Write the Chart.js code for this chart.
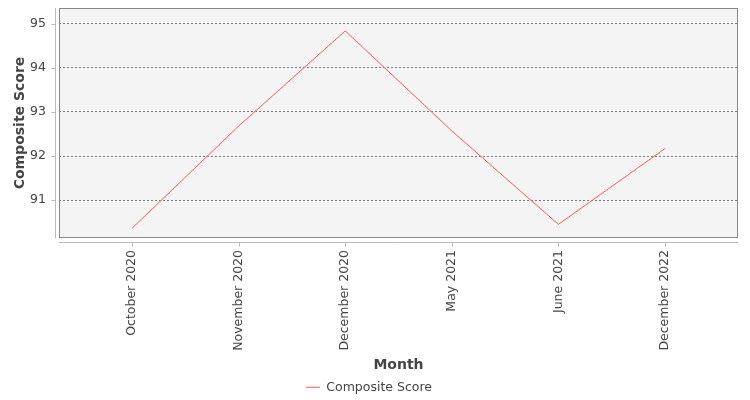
<!DOCTYPE html>
<html>
<head>
<meta charset="utf-8">
<script src="https://cdn.jsdelivr.net/npm/chart.js@4/dist/chart.umd.min.js"></script>
<style>
  html, body { margin: 0; padding: 0; background: #fff; }
  #wrap { width: 750px; height: 400px; }
</style>
</head>
<body>
<div id="wrap"><canvas id="chart" width="750" height="400"></canvas></div>
<script>
const months = ["October 2020", "November 2020", "December 2020", "May 2021", "June 2021", "December 2022"];
const compositeScore = [90.36, 92.68, 94.84, 92.57, 90.45, 92.17];
const yTicks = [91, 92, 93, 94, 95];

const FONT = "'DejaVu Sans', sans-serif";
const TEXT = "#444444";

// plot background, border, offset axis lines and tick marks (JFreeChart look)
const plotFrame = {
  id: "plotFrame",
  beforeDraw(chart) {
    const { ctx, chartArea: a } = chart;
    ctx.save();
    ctx.fillStyle = "#f4f4f4";
    ctx.fillRect(a.left, a.top, a.right - a.left, a.bottom - a.top);
    ctx.restore();
  },
  afterDraw(chart) {
    const { ctx, chartArea: a, scales } = chart;
    ctx.save();
    ctx.lineWidth = 1;
    ctx.strokeStyle = "#888888";
    ctx.strokeRect(a.left + 0.5, a.top + 0.5, a.right - a.left - 1, a.bottom - a.top - 1);

    ctx.strokeStyle = "#bbbbbb";
    ctx.beginPath();
    const ax = Math.round(a.left - 4) + 0.5;
    ctx.moveTo(ax, a.top);
    ctx.lineTo(ax, a.bottom);
    for (const v of yTicks) {
      const py = Math.round(scales.y.getPixelForValue(v)) + 0.5;
      ctx.moveTo(ax - 4, py);
      ctx.lineTo(ax, py);
    }
    const ay = Math.round(a.bottom + 4) + 0.5;
    ctx.moveTo(a.left, ay);
    ctx.lineTo(a.right, ay);
    months.forEach((m, i) => {
      const px = Math.round(scales.x.getPixelForValue(i)) + 0.5;
      ctx.moveTo(px, ay);
      ctx.lineTo(px, ay + 4);
    });
    ctx.stroke();
    ctx.restore();
  },
};

new Chart(document.getElementById("chart"), {
  type: "line",
  data: {
    datasets: [
      {
        label: "Composite Score",
        data: compositeScore.map((v, i) => ({ x: i, y: v })),
        borderColor: "#ff5a5a",
        backgroundColor: "#ff5a5a",
        borderWidth: 1,
        pointRadius: 0,
        tension: 0,
        pointStyle: "line",
      },
    ],
  },
  options: {
    responsive: false,
    animation: false,
    devicePixelRatio: 1,
    layout: { padding: { left: 0, right: 12, top: 8, bottom: -3.5 } },
    plugins: {
      legend: {
        position: "bottom",
        labels: {
          usePointStyle: true,
          pointStyleWidth: 14,
          padding: 3,
          color: TEXT,
          font: { family: FONT, size: 12.5 },
        },
      },
      tooltip: { enabled: false },
    },
    scales: {
      x: {
        type: "linear",
        min: -0.685,
        max: months.length - 1 + 0.685,
        afterBuildTicks: (s) => { s.ticks = months.map((_, i) => ({ value: i })); },
        afterFit: (s) => { s.height = 140; s.paddingLeft = 0; s.paddingRight = 0; },
        grid: { display: false, drawTicks: false },
        border: { display: false },
        ticks: {
          autoSkip: false,
          minRotation: 90,
          maxRotation: 90,
          padding: 12,
          color: TEXT,
          font: { family: FONT, size: 12.5 },
          callback: (v) => months[v] ?? "",
        },
        title: {
          display: true,
          text: "Month",
          color: TEXT,
          font: { family: FONT, size: 14, weight: "bold" },
          padding: { top: 0, bottom: 4 },
        },
      },
      y: {
        min: 90.14,
        max: 95.36,
        afterBuildTicks: (s) => { s.ticks = yTicks.map((v) => ({ value: v })); },
        afterFit: (s) => { s.width = 59; s.paddingTop = 0; s.paddingBottom = 0; },
        grid: { color: "#7a7a7a", lineWidth: 1, drawTicks: false },
        border: { display: false, dash: [2, 2] },
        ticks: {
          padding: 13,
          color: TEXT,
          font: { family: FONT, size: 12.5 },
        },
        title: {
          display: true,
          text: "Composite Score",
          color: TEXT,
          font: { family: FONT, size: 14, weight: "bold" },
          padding: { top: 12, bottom: 0 },
        },
      },
    },
  },
  plugins: [plotFrame],
});
</script>
</body>
</html>
